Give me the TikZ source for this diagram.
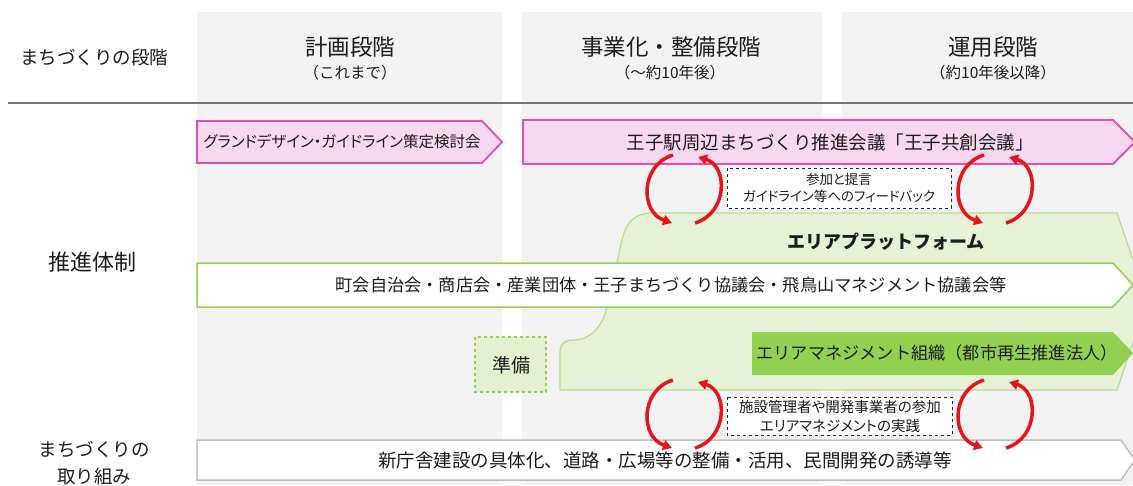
\documentclass[tikz,border=0pt]{standalone}
\usepackage{fontspec}
\setmainfont{Noto Sans CJK JP}
\newfontfamily\jpp[RawFeature=+palt]{Noto Sans CJK JP}
\usetikzlibrary{arrows.meta}
\newcommand{\fsz}[1]{\fontsize{#1}{#1}\selectfont}
\definecolor{colgray}{RGB}{242,242,242}
\definecolor{pinkfill}{RGB}{247,216,239}
\definecolor{pinkline}{RGB}{226,80,175}
\definecolor{pfgreen}{RGB}{230,242,214}
\definecolor{pfline}{RGB}{186,222,150}
\definecolor{midgreen}{RGB}{146,208,80}
\definecolor{lightgreen}{RGB}{226,240,208}
\definecolor{grayline}{RGB}{191,191,191}
\definecolor{hdrline}{RGB}{118,118,118}
\definecolor{txt}{RGB}{28,28,28}
\definecolor{arrred}{RGB}{232,20,28}
\newcommand{\redpair}[3]{%
  \begin{scope}[shift={(#2,#3)}]
    \coordinate (#1a) at (673,155); \coordinate (#1b) at (672,223);
    \coordinate (#1c) at (695,223); \coordinate (#1d) at (698,157);
    \draw[redarr] (#1a) .. controls (640,165) and (640,212) .. (#1b);
    \draw[redarr] (#1c) .. controls (728,213) and (728,166) .. (#1d);
  \end{scope}}
\begin{document}
\begin{tikzpicture}[x=1pt,y=-1pt,
  lbl/.style={text=txt, inner sep=0pt, align=center},
  colbg/.style={fill=colgray, draw=none},
  pinkbox/.style={fill=pinkfill, draw=pinkline, line width=1.8pt, line join=miter},
  bandbox/.style={fill=white, draw=midgreen, line width=1.5pt},
  graybox/.style={fill=white, draw=grayline, line width=1.5pt},
  dashbox/.style={fill=white, draw=black!85, dashed, line width=0.9pt},
  redarr/.style={draw=arrred, line width=3.5pt, -{Triangle[length=9pt,width=10pt]}}]
\useasboundingbox (0,0) rectangle (1133,485);
\clip (0,0) rectangle (1133,485);
\fill[white] (0,0) rectangle (1133,485);
% columns
\path[colbg] (197,12) rectangle (502,485);
\path[colbg] (522,12) rectangle (822,485);
\path[colbg] (842,12) rectangle (1133,485);
% header line
\coordinate (hl) at (8,103);
\coordinate (hr) at (1133,103);
\draw[hdrline, line width=2pt] (hl) -- (hr);
% header texts
\node[lbl] (stage) at (94,57) {\fsz{18.5}まちづくりの段階};
\node[lbl] (h1) at (350,47) {\fsz{22.5}計画段階};
\node[lbl] (s1) at (350,73) {\fsz{15.5}（これまで）};
\node[lbl] (h2) at (671,47) {\fsz{22.5}事業化・整備段階};
\node[lbl] (s2) at (670,73) {\fsz{15.5}（～約10年後）};
\node[lbl] (h3) at (993,47) {\fsz{22.5}運用段階};
\node[lbl] (s3) at (993,73) {\fsz{15.5}（約10年後以降）};
% pink arrows
\path[pinkbox] (197,121) -- (482,121) -- (502,142) -- (482,163) -- (197,163) -- cycle;
\path[pinkbox] (523,120) -- (1113,120) -- (1135,142) -- (1113,164) -- (523,164) -- cycle;
% platform
\path[fill=pfgreen, draw=pfline, line width=1.3pt]
  (560,390) -- (560,352) .. controls (560,343) and (565,340) .. (575,340)
  .. controls (592,339) and (603,325) .. (607,307) -- (622,240)
  .. controls (626,222) and (635,213) .. (652,213) -- (1117,213)
  -- (1147,301) -- (1117,390) -- cycle;
% band
\path[bandbox] (197,263) -- (1113,263) -- (1133,285) -- (1113,307) -- (197,307) -- cycle;
% org box
\path[fill=midgreen] (752,332) -- (1113,332) -- (1133,353) -- (1113,375) -- (752,375) -- cycle;
% prep box
\path[fill=lightgreen, draw=midgreen, dashed, line width=1.5pt] (475,337) rectangle (546,392);
% bottom box
\path[graybox] (197,440) -- (1121,440) -- (1135,460) -- (1121,480) -- (197,480) -- cycle;
% dashed boxes
\path[dashbox] (727,168) rectangle (951,208);
\path[dashbox] (727,397) rectangle (952,435);
% red arrows
\redpair{ua}{0}{0}
\redpair{ub}{311}{0}
\redpair{la}{0}{225}
\redpair{lb}{311}{225}
% texts
\node[lbl, font=\jpp\fsz{15.5}] (gd) at (342,142) {グランドデザイン・ガイドライン策定検討会};
\node[lbl, font=\fsz{18.5}] (oj) at (830,142) {王子駅周辺まちづくり推進会議「王子共創会議」};
\node[lbl, font=\jpp\fontsize{13.5}{17}\selectfont] (fb) at (839,188) {参加と提言\\ガイドライン等へのフィードバック};
\node[lbl, font=\fsz{18}\bfseries] (pf) at (886,242) {エリアプラットフォーム};
\node[lbl, font=\fsz{17.2}] (band) at (671,285) {町会自治会・商店会・産業団体・王子まちづくり協議会・飛鳥山マネジメント協議会等};
\node[lbl, font=\fsz{17.2}] (org) at (937,353) {エリアマネジメント組織（都市再生推進法人）};
\node[lbl, font=\fsz{19}] (prep) at (511,365) {準備};
\node[lbl, font=\jpp\fontsize{14.5}{19}\selectfont] (em) at (840,416) {施設管理者や開発事業者の参加\\エリアマネジメントの実践};
\node[lbl, font=\fsz{22}] (suishin) at (92,262) {推進体制};
\node[lbl, font=\fontsize{18.5}{27}\selectfont] (torikumi) at (94,463) {まちづくりの\\取り組み};
\node[lbl, font=\fsz{18.5}] (bottom) at (665,460) {新庁舎建設の具体化、道路・広場等の整備・活用、民間開発の誘導等};
\end{tikzpicture}
\end{document}
